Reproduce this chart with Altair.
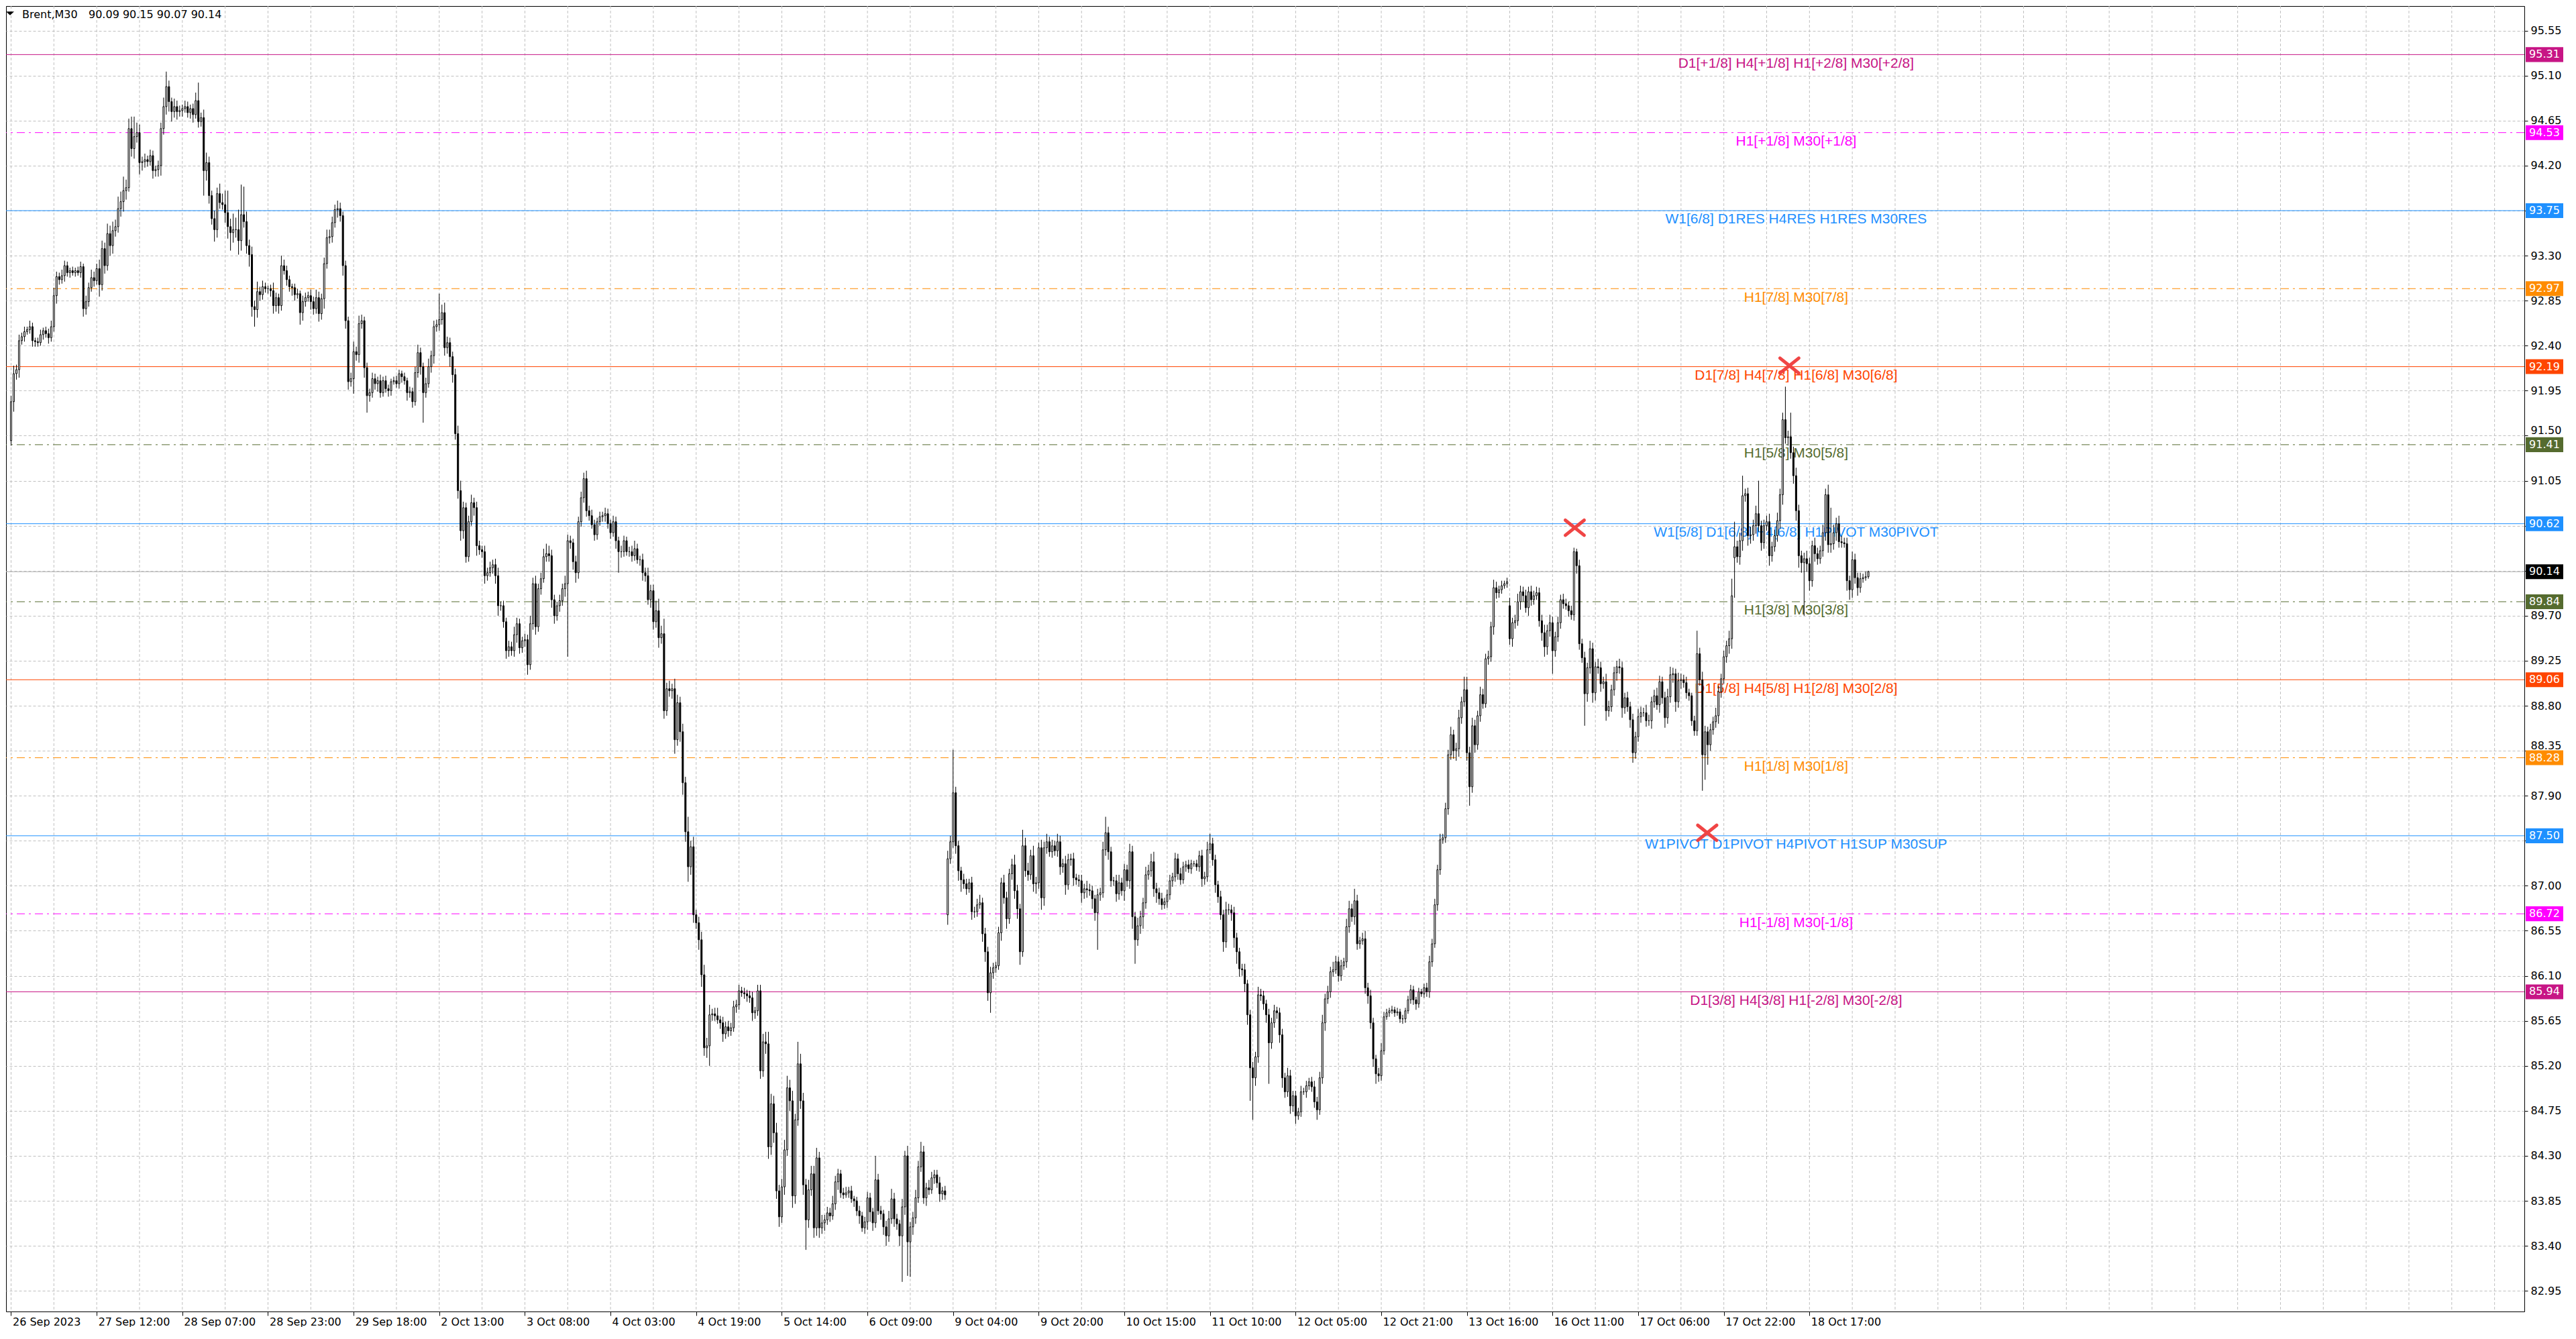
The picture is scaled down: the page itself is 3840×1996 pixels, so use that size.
import altair as alt
import pandas as pd

# ---------------- data ----------------
# M30 closes, one per bar (bar 0 = 26 Sep 2023)
closes = [
    91.84, 92.12, 92.16, 92.45, 92.49, 92.54, 92.56, 92.59, 92.45, 92.44, 92.43, 92.51, 92.55, 92.52, 92.48, 92.59, 92.90, 93.09, 93.06, 93.10,
    93.20, 93.13, 93.15, 93.13, 93.15, 93.13, 93.19, 92.77, 92.84, 92.98, 93.08, 93.05, 93.17, 93.01, 93.37, 93.20, 93.52, 93.40, 93.55, 93.59,
    93.77, 93.84, 93.95, 93.98, 94.57, 94.37, 94.49, 94.53, 94.23, 94.24, 94.26, 94.24, 94.30, 94.15, 94.16, 94.20, 94.57, 94.79, 94.99, 94.84,
    94.74, 94.79, 94.74, 94.75, 94.77, 94.79, 94.73, 94.77, 94.71, 94.85, 94.64, 94.68, 94.15, 94.23, 93.90, 93.67, 93.56, 93.92, 93.83, 93.81,
    93.73, 93.59, 93.53, 93.56, 93.56, 93.45, 93.71, 93.64, 93.40, 93.31, 92.79, 92.76, 92.94, 92.91, 92.99, 92.97, 92.97, 92.95, 92.80, 92.88,
    92.80, 93.20, 93.15, 93.06, 92.99, 92.98, 92.91, 92.92, 92.73, 92.84, 92.88, 92.90, 92.84, 92.77, 92.88, 92.72, 92.87, 93.22, 93.48, 93.49,
    93.63, 93.76, 93.77, 93.70, 93.20, 92.65, 92.04, 92.07, 92.34, 92.31, 92.62, 92.65, 92.18, 91.90, 91.93, 92.07, 92.02, 92.05, 91.93, 92.05,
    91.97, 91.95, 92.04, 92.05, 92.02, 92.12, 92.09, 92.05, 91.93, 91.94, 91.84, 92.13, 92.33, 92.19, 91.93, 92.02, 92.19, 92.30, 92.59, 92.61,
    92.66, 92.73, 92.38, 92.43, 92.29, 92.11, 91.52, 90.95, 90.55, 90.78, 90.29, 90.64, 90.83, 90.78, 90.40, 90.36, 90.34, 90.10, 90.13, 90.18,
    90.21, 90.10, 89.80, 89.80, 89.64, 89.35, 89.39, 89.35, 89.51, 89.62, 89.38, 89.45, 89.46, 89.21, 89.62, 90.02, 89.59, 89.97, 90.07, 90.29,
    90.32, 90.30, 89.86, 89.70, 89.80, 89.85, 89.97, 90.02, 90.45, 90.43, 90.24, 90.13, 90.64, 90.88, 91.07, 90.75, 90.70, 90.61, 90.51, 90.64,
    90.69, 90.70, 90.72, 90.62, 90.53, 90.64, 90.45, 90.34, 90.34, 90.45, 90.34, 90.34, 90.30, 90.37, 90.26, 90.26, 90.13, 90.10, 89.86, 89.95,
    89.64, 89.75, 89.48, 89.52, 88.75, 88.97, 88.95, 88.97, 88.46, 88.83, 88.54, 88.03, 87.54, 87.19, 87.39, 86.71, 86.63, 86.46, 86.11, 85.38,
    85.40, 85.71, 85.72, 85.70, 85.66, 85.63, 85.52, 85.59, 85.55, 85.58, 85.79, 85.81, 85.95, 85.93, 85.92, 85.90, 85.88, 85.73, 85.75, 85.95,
    85.15, 85.44, 85.42, 84.39, 84.82, 84.53, 83.95, 83.69, 83.99, 84.36, 84.98, 84.85, 83.90, 84.66, 85.22, 84.85, 84.01, 83.66, 83.96, 84.12,
    83.58, 84.28, 83.58, 83.63, 83.66, 83.73, 83.70, 83.82, 84.04, 84.12, 83.93, 83.91, 83.93, 83.95, 83.87, 83.85, 83.75, 83.70, 83.58, 83.64,
    83.88, 83.74, 83.63, 84.06, 83.75, 83.72, 83.59, 83.50, 83.67, 83.87, 83.67, 83.62, 83.50, 83.79, 84.30, 83.44, 83.59, 83.68, 83.88, 84.19,
    84.34, 83.88, 83.98, 83.96, 84.08, 84.11, 84.03, 83.92, 83.95, 83.91, 87.27, 87.44, 87.93, 87.40, 87.15, 87.06, 87.02, 86.97, 87.03, 86.74,
    86.74, 86.81, 86.83, 86.52, 86.34, 85.93, 86.13, 86.18, 86.20, 86.53, 87.03, 86.88, 86.67, 87.12, 87.21, 86.95, 86.77, 86.34, 87.40, 87.15,
    87.11, 87.30, 87.02, 87.03, 87.38, 86.88, 87.38, 87.44, 87.34, 87.40, 87.35, 87.44, 87.19, 87.22, 87.01, 87.26, 87.27, 87.08, 87.06, 87.05,
    86.93, 86.97, 86.96, 86.95, 86.87, 86.73, 86.91, 86.93, 87.36, 87.53, 87.34, 87.05, 87.05, 86.92, 87.03, 86.95, 87.16, 87.05, 87.34, 86.69,
    86.46, 86.60, 86.69, 86.83, 87.11, 87.15, 87.24, 86.97, 86.93, 86.87, 86.81, 86.84, 86.91, 87.05, 87.09, 87.27, 87.12, 87.06, 87.19, 87.21,
    87.17, 87.22, 87.22, 87.19, 87.30, 87.07, 87.09, 87.36, 87.42, 87.26, 87.01, 86.89, 86.71, 86.44, 86.76, 86.76, 86.73, 86.48, 86.34, 86.17,
    86.16, 86.02, 85.71, 85.18, 85.08, 85.29, 85.91, 85.90, 85.82, 85.71, 85.43, 85.63, 85.75, 85.73, 85.51, 85.08, 84.94, 85.10, 84.80, 84.90,
    84.70, 84.74, 84.94, 84.94, 85.00, 85.04, 84.99, 84.84, 84.76, 85.08, 85.63, 85.87, 85.94, 86.14, 86.16, 86.24, 86.10, 86.20, 86.24, 86.59,
    86.77, 86.69, 86.85, 86.42, 86.45, 86.47, 85.98, 85.90, 85.63, 85.27, 85.12, 85.10, 85.35, 85.69, 85.73, 85.75, 85.76, 85.73, 85.74, 85.67,
    85.67, 85.75, 85.86, 85.96, 85.86, 85.82, 85.94, 85.92, 85.98, 85.94, 86.24, 86.42, 86.81, 87.16, 87.46, 87.48, 87.77, 88.31, 88.51, 88.35,
    88.37, 88.68, 88.84, 88.96, 88.33, 87.99, 88.60, 88.41, 88.70, 88.91, 88.82, 89.27, 89.29, 89.59, 89.98, 89.93, 89.96, 90.00, 90.02, 90.04,
    89.47, 89.63, 89.65, 89.84, 89.94, 89.90, 89.78, 89.94, 89.86, 89.90, 89.93, 89.65, 89.53, 89.39, 89.55, 89.63, 89.35, 89.49, 89.63, 89.86,
    89.82, 89.80, 89.75, 89.71, 90.34, 90.20, 89.42, 89.28, 88.92, 89.18, 89.37, 88.93, 89.19, 89.18, 89.02, 89.04, 88.75, 88.79, 88.96, 89.13,
    89.19, 89.18, 88.78, 88.88, 88.79, 88.66, 88.33, 88.49, 88.69, 88.73, 88.73, 88.65, 88.65, 88.84, 88.90, 88.81, 89.04, 88.88, 88.68, 88.89,
    89.11, 89.12, 88.84, 89.05, 89.06, 89.03, 88.93, 88.90, 88.65, 88.55, 89.32, 89.06, 88.31, 88.54, 88.41, 88.56, 88.64, 88.70, 88.94, 89.07,
    89.29, 89.40, 89.47, 89.90, 90.39, 90.29, 90.45, 90.90, 90.92, 90.50, 90.51, 90.60, 90.72, 90.60, 90.43, 90.60, 90.64, 90.30, 90.39, 90.50,
    90.65, 90.91, 91.66, 91.48, 91.49, 91.33, 91.10, 90.75, 90.30, 90.23, 90.27, 90.22, 90.05, 90.40, 90.32, 90.27, 90.35, 90.53, 90.91, 90.41,
    90.42, 90.53, 90.62, 90.44, 90.43, 90.42, 90.05, 89.96, 90.26, 90.08, 89.98, 90.07, 90.08, 90.09, 90.14,
]

# opens that differ from the previous close (session gaps)
gap_opens = {0: 91.45, 350: 86.71, 560: 89.80, 644: 90.28}

# upper / lower wick lengths above / below the body, in cents
wick_up = [
    6, 8, 5, 6, 4, 5, 3, 6, 4, 3, 4, 5, 3, 4, 5, 6, 8, 5, 4, 6,
    5, 4, 3, 4, 3, 4, 5, 3, 6, 5, 8, 6, 5, 9, 8, 6, 10, 8, 9, 7,
    12, 10, 14, 8, 10, 12, 20, 10, 8, 5, 6, 4, 6, 5, 4, 5, 6, 9, 15, 6,
    4, 8, 6, 5, 4, 6, 5, 4, 5, 8, 18, 5, 8, 10, 6, 5, 8, 6, 10, 9,
    14, 22, 8, 16, 12, 20, 30, 28, 10, 6, 8, 6, 10, 5, 6, 4, 3, 4, 8, 5,
    4, 10, 6, 5, 4, 3, 4, 5, 3, 6, 5, 4, 6, 5, 8, 6, 5, 6, 8, 7,
    6, 5, 8, 6, 4, 5, 4, 6, 10, 5, 8, 6, 4, 5, 4, 6, 5, 4, 6, 4,
    5, 4, 3, 4, 5, 4, 3, 4, 3, 5, 4, 6, 8, 5, 4, 6, 8, 5, 6, 5,
    26, 8, 10, 6, 5, 5, 6, 8, 10, 6, 5, 6, 8, 5, 6, 5, 4, 6, 5, 6,
    5, 6, 8, 4, 5, 4, 6, 5, 8, 6, 5, 4, 6, 5, 8, 6, 8, 5, 6, 8,
    10, 8, 6, 5, 4, 6, 5, 8, 6, 5, 4, 6, 5, 6, 6, 8, 5, 6, 5, 4,
    5, 4, 6, 5, 4, 6, 5, 4, 6, 5, 4, 5, 6, 8, 5, 4, 6, 5, 8, 6,
    6, 10, 12, 8, 15, 6, 8, 5, 10, 8, 6, 8, 6, 15, 6, 10, 5, 6, 8, 10,
    8, 10, 5, 6, 8, 4, 6, 5, 6, 5, 6, 5, 6, 4, 5, 4, 5, 6, 4, 6,
    6, 8, 10, 12, 10, 8, 10, 6, 8, 10, 12, 8, 10, 6, 22, 10, 8, 6, 10, 8,
    8, 10, 6, 8, 5, 6, 5, 8, 6, 5, 4, 5, 6, 4, 5, 3, 4, 5, 4, 5,
    6, 5, 4, 24, 6, 5, 4, 6, 8, 10, 6, 5, 4, 8, 5, 10, 5, 6, 8, 6,
    10, 6, 5, 8, 6, 5, 5, 6, 4, 5, 8, 6, 43, 6, 5, 4, 6, 5, 4, 6,
    5, 6, 8, 5, 6, 5, 6, 5, 4, 6, 5, 8, 6, 5, 6, 10, 6, 5, 16, 8,
    8, 6, 10, 6, 5, 8, 6, 8, 5, 6, 5, 8, 6, 5, 8, 6, 5, 6, 4, 5,
    6, 5, 8, 6, 5, 4, 6, 5, 8, 16, 6, 5, 4, 6, 8, 5, 6, 5, 8, 6,
    5, 8, 6, 5, 8, 6, 8, 10, 6, 5, 6, 4, 5, 6, 4, 6, 5, 6, 5, 4,
    5, 4, 3, 4, 5, 6, 5, 8, 10, 6, 5, 4, 6, 5, 8, 6, 5, 6, 5, 4,
    5, 6, 4, 5, 6, 5, 8, 6, 5, 4, 6, 5, 6, 4, 5, 6, 5, 8, 6, 5,
    5, 4, 6, 4, 5, 4, 5, 6, 5, 6, 8, 5, 6, 5, 8, 6, 5, 6, 4, 8,
    8, 5, 12, 6, 4, 6, 8, 5, 6, 5, 4, 6, 8, 5, 4, 3, 4, 3, 4, 3,
    4, 3, 4, 5, 4, 3, 4, 3, 4, 5, 6, 5, 6, 5, 6, 4, 6, 5, 8, 5,
    6, 8, 5, 13, 13, 6, 8, 6, 5, 8, 6, 5, 6, 5, 8, 6, 4, 5, 3, 4,
    8, 5, 6, 8, 6, 5, 6, 5, 6, 5, 6, 5, 6, 8, 6, 8, 6, 5, 6, 5,
    6, 5, 4, 5, 4, 3, 6, 5, 6, 5, 8, 6, 5, 8, 6, 5, 8, 6, 5, 6,
    6, 8, 6, 5, 6, 5, 6, 5, 8, 6, 5, 8, 6, 5, 6, 8, 6, 5, 6, 8,
    8, 6, 5, 8, 6, 5, 6, 4, 3, 5, 23, 6, 8, 6, 5, 6, 5, 8, 6, 5,
    6, 5, 8, 17, 25, 6, 8, 20, 5, 6, 8, 6, 8, 33, 5, 6, 6, 8, 5, 6,
    8, 6, 7, 33, 6, 24, 6, 8, 6, 5, 6, 8, 6, 5, 8, 6, 5, 8, 6, 10,
    36, 8, 6, 8, 6, 5, 6, 5, 8, 6, 5, 6, 4, 5, 1,
]
wick_dn = [
    5, 10, 6, 8, 4, 5, 3, 4, 6, 5, 4, 3, 5, 4, 6, 4, 5, 8, 5, 4,
    6, 4, 5, 3, 4, 3, 5, 8, 6, 5, 4, 6, 4, 12, 6, 8, 5, 10, 8, 6,
    6, 8, 10, 9, 4, 8, 10, 6, 12, 8, 6, 5, 4, 8, 6, 7, 10, 6, 8, 10,
    10, 6, 8, 5, 6, 4, 5, 6, 8, 4, 6, 5, 25, 10, 8, 6, 12, 8, 6, 5,
    10, 12, 18, 10, 8, 14, 10, 6, 8, 12, 10, 17, 8, 6, 5, 4, 5, 6, 8, 6,
    8, 5, 4, 6, 5, 8, 6, 4, 12, 8, 5, 4, 8, 6, 5, 8, 6, 10, 5, 6,
    6, 5, 8, 6, 10, 8, 8, 5, 15, 6, 8, 5, 10, 17, 6, 5, 6, 8, 5, 4,
    4, 6, 5, 3, 4, 5, 6, 4, 8, 5, 6, 4, 5, 8, 30, 5, 4, 6, 8, 5,
    6, 5, 8, 6, 10, 8, 6, 8, 10, 8, 6, 5, 4, 8, 10, 5, 6, 8, 5, 4,
    6, 8, 10, 5, 6, 8, 6, 5, 6, 8, 6, 5, 6, 10, 5, 6, 8, 5, 6, 4,
    5, 6, 8, 8, 5, 6, 5, 8, 73, 6, 8, 10, 6, 5, 5, 6, 5, 4, 6, 5,
    4, 5, 6, 5, 6, 4, 8, 21, 6, 5, 4, 5, 6, 5, 4, 6, 8, 6, 5, 8,
    8, 6, 10, 6, 8, 5, 6, 8, 14, 6, 10, 12, 10, 15, 8, 8, 6, 10, 12, 8,
    10, 20, 6, 5, 4, 6, 8, 5, 6, 5, 4, 6, 5, 4, 5, 6, 5, 8, 6, 5,
    8, 6, 10, 12, 8, 10, 8, 10, 6, 8, 6, 10, 12, 8, 6, 8, 10, 30, 8, 6,
    10, 8, 10, 6, 8, 5, 6, 4, 6, 8, 5, 4, 3, 5, 4, 6, 5, 8, 4, 6,
    8, 10, 8, 5, 4, 6, 8, 10, 6, 5, 8, 6, 10, 46, 8, 34, 35, 8, 6, 5,
    5, 6, 8, 5, 4, 6, 5, 8, 6, 5, 10, 5, 6, 8, 10, 12, 5, 6, 4, 8,
    6, 5, 4, 8, 10, 8, 20, 6, 5, 4, 8, 6, 10, 5, 6, 8, 10, 13, 5, 6,
    6, 5, 8, 10, 6, 12, 8, 6, 5, 6, 5, 6, 8, 6, 10, 5, 6, 8, 5, 6,
    10, 6, 8, 5, 10, 8, 37, 6, 5, 6, 8, 6, 5, 8, 6, 5, 10, 6, 8, 12,
    24, 6, 8, 12, 6, 5, 6, 8, 10, 6, 5, 4, 6, 5, 6, 5, 6, 5, 4, 5,
    4, 5, 3, 4, 5, 8, 6, 5, 4, 6, 8, 6, 5, 10, 6, 5, 8, 10, 12, 8,
    6, 8, 10, 33, 42, 8, 6, 5, 6, 8, 41, 6, 5, 6, 8, 10, 6, 5, 8, 6,
    8, 4, 5, 3, 6, 4, 5, 6, 10, 5, 6, 8, 5, 6, 5, 4, 6, 5, 4, 6,
    6, 5, 8, 6, 5, 4, 6, 8, 6, 8, 10, 6, 5, 4, 3, 4, 3, 4, 3, 4,
    5, 4, 3, 4, 5, 6, 4, 3, 4, 5, 6, 5, 4, 6, 5, 4, 5, 6, 5, 8,
    10, 8, 6, 5, 8, 19, 6, 8, 5, 6, 5, 4, 6, 5, 8, 6, 5, 4, 3, 4,
    6, 8, 6, 5, 8, 6, 5, 8, 6, 5, 4, 6, 8, 10, 8, 6, 23, 6, 5, 6,
    5, 4, 6, 5, 6, 8, 6, 5, 32, 8, 6, 10, 8, 6, 8, 5, 10, 6, 5, 6,
    8, 6, 10, 6, 5, 8, 10, 6, 5, 6, 4, 6, 5, 8, 6, 5, 8, 6, 10, 6,
    6, 8, 10, 6, 8, 5, 6, 5, 5, 5, 5, 6, 36, 25, 20, 6, 5, 6, 8, 6,
    5, 6, 8, 10, 40, 6, 8, 10, 6, 10, 8, 6, 8, 6, 8, 6, 5, 10, 6, 5,
    6, 8, 10, 6, 8, 6, 8, 10, 12, 10, 53, 8, 10, 6, 8, 6, 5, 6, 8, 8,
    8, 6, 8, 6, 5, 4, 10, 10, 8, 6, 8, 5, 4, 3, 2,
]

# Murrey-math style levels drawn across the chart
level_prices = [95.31, 94.53, 93.75, 92.97, 92.19, 91.41, 90.62, 89.84, 89.06, 88.28, 87.50, 86.72, 85.94]
level_colors = ["#C71585", "#FF00FF", "#1E90FF", "#FF8C00", "#FF4500", "#556B2F", "#1E90FF",
                "#556B2F", "#FF4500", "#FF8C00", "#1E90FF", "#FF00FF", "#C71585"]
level_styles = ["solid", "dashdot", "solid", "dashdot", "solid", "dashdot", "solid",
                "dashdot", "solid", "dashdot", "solid", "dashdot", "solid"]
level_texts = [
    "D1[+1/8] H4[+1/8] H1[+2/8] M30[+2/8]",
    "H1[+1/8] M30[+1/8]",
    "W1[6/8] D1RES H4RES H1RES M30RES",
    "H1[7/8] M30[7/8]",
    "D1[7/8] H4[7/8] H1[6/8] M30[6/8]",
    "H1[5/8] M30[5/8]",
    "W1[5/8] D1[6/8] H4[6/8] H1PIVOT M30PIVOT",
    "H1[3/8] M30[3/8]",
    "D1[5/8] H4[5/8] H1[2/8] M30[2/8]",
    "H1[1/8] M30[1/8]",
    "W1PIVOT D1PIVOT H4PIVOT H1SUP M30SUP",
    "H1[-1/8] M30[-1/8]",
    "D1[3/8] H4[3/8] H1[-2/8] M30[-2/8]",
]
level_label_bar = 667

# red cross markers (bar, price)
cross_bars = [584.3, 664.5, 633.8]
cross_prices = [90.58, 92.20, 87.53]

# axes
x_tick_bars = [0, 32, 64, 96, 128, 160, 192, 224, 256, 288, 320, 352, 384, 416, 448, 480, 512, 544, 576, 608, 640, 672]
x_tick_labels = ["26 Sep 2023", "27 Sep 12:00", "28 Sep 07:00", "28 Sep 23:00", "29 Sep 18:00", "2 Oct 13:00",
                 "3 Oct 08:00", "4 Oct 03:00", "4 Oct 19:00", "5 Oct 14:00", "6 Oct 09:00", "9 Oct 04:00",
                 "9 Oct 20:00", "10 Oct 15:00", "11 Oct 10:00", "12 Oct 05:00", "12 Oct 21:00", "13 Oct 16:00",
                 "16 Oct 11:00", "17 Oct 06:00", "17 Oct 22:00", "18 Oct 17:00"]
vgrid_bars = [16 * k for k in range(59)]
y_ticks = [82.95, 83.40, 83.85, 84.30, 84.75, 85.20, 85.65, 86.10, 86.55, 87.00, 87.45, 87.90, 88.35, 88.80,
           89.25, 89.70, 90.15, 90.60, 91.05, 91.50, 91.95, 92.40, 92.85, 93.30, 93.75, 94.20, 94.65, 95.10, 95.55]
symbol_name = "Brent,M30"

# ---------------- build tables ----------------
n = len(closes)
if not (len(wick_up) == n and len(wick_dn) == n):
    raise SystemExit(f"length mismatch {n} {len(wick_up)} {len(wick_dn)}")

rows = []
for i in range(n):
    o = gap_opens.get(i, closes[i - 1] if i > 0 else closes[0])
    c = closes[i]
    rows.append(dict(bar=i, open=o, close=c,
                     high=round(max(o, c) + wick_up[i] / 100, 2),
                     low=round(min(o, c) - wick_dn[i] / 100, 2),
                     fill="white" if c >= o else "black"))
candles = pd.DataFrame(rows)
last = rows[-1]
header_values = f"{last['open']:.2f} {last['high']:.2f} {last['low']:.2f} {last['close']:.2f}"

levels = pd.DataFrame(dict(price=level_prices, color=level_colors, style=level_styles,
                           label=level_texts, lx=[level_label_bar] * len(level_prices)))
box_prices = level_prices + [last["close"]]
boxes = pd.DataFrame(dict(price=box_prices, color=level_colors + ["#000000"]))
boxes["ptxt"] = [f"{p:.2f}" for p in boxes["price"]]
crosses = pd.DataFrame(dict(bar=cross_bars, price=cross_prices))
vgrid = pd.DataFrame(dict(bar=vgrid_bars))
lastdf = pd.DataFrame(dict(price=[last["close"]]))

# tick labels completely under a price box are not shown (as in the terminal);
# labels just above a box sit on top of it, labels just below hang under it
hidden_ticks = [t for t in y_ticks if any(abs(t - p) < 0.06 for p in box_prices)]
lift_ticks = [t for t in y_ticks if t not in hidden_ticks and any(0 < t - p < 0.10 for p in box_prices)]
drop_ticks = [t for t in y_ticks if t not in hidden_ticks and any(0 < p - t < 0.10 for p in box_prices)]


def js_list(vals):
    return "[" + ",".join(f"{v:.2f}" for v in vals) + "]"


y_label_expr = f"indexof({js_list(hidden_ticks)}, datum.value) >= 0 ? '' : format(datum.value, '.2f')"
y_label_baseline = {
    "condition": [
        {"test": f"indexof({js_list(lift_ticks)}, datum.value) >= 0", "value": "bottom"},
        {"test": f"indexof({js_list(drop_ticks)}, datum.value) >= 0", "value": "top"},
    ],
    "value": "middle",
}

# ---------------- chart ----------------
W, H = 3754, 1946
xs = alt.Scale(domain=[-0.625, -0.625 + W / 4], zero=False, nice=False)
ys = alt.Scale(domain=[82.7438, 95.7955], zero=False, nice=False)
FONT = "DejaVu Sans"
label_expr = "[" + ",".join(f"'{t}'" for t in x_tick_labels) + "][round(datum.value / 32)]"

x_axis = alt.Axis(values=x_tick_bars, labelExpr=label_expr, labelAlign="left", labelBaseline="top",
                  labelPadding=1, labelOffset=2, tickSize=6, tickColor="black", domain=False, grid=False,
                  labelFont=FONT, labelFontSize=16, labelColor="black", title=None,
                  labelOverlap=False, labelFlush=False, zindex=0)
y_axis = alt.Axis(orient="right", values=y_ticks, labelExpr=y_label_expr, labelFont=FONT, labelFontSize=16,
                  labelColor="black", tickSize=5, tickColor="black", labelPadding=4, domain=False,
                  grid=True, gridColor="#C0C0C0", gridDash=[4, 3], gridWidth=1, title=None,
                  labelOverlap=False, labelFlush=False, labelBaseline=y_label_baseline, zindex=0)


def X(field):
    return alt.X(field, scale=xs, axis=x_axis)


def Y(field):
    return alt.Y(field, scale=ys, axis=y_axis)


grid_v = alt.Chart(vgrid).mark_rule(color="#C0C0C0", strokeDash=[4, 3], strokeWidth=1).encode(
    x=X("bar:Q"))

level_lines = alt.Chart(levels).mark_rule(strokeWidth=1).encode(
    y=Y("price:Q"),
    color=alt.Color("color:N", scale=None),
    strokeDash=alt.StrokeDash("style:N", scale=alt.Scale(domain=["solid", "dashdot"],
                                                         range=[[1, 0], [12, 6, 3, 6]]), legend=None))

bid_line = alt.Chart(lastdf).mark_rule(color="#B0B0B0", strokeWidth=1).encode(y=Y("price:Q"))

level_labels = alt.Chart(levels).mark_text(font="Liberation Sans", fontSize=21, align="center",
                                           baseline="alphabetic", dy=19.5).encode(
    x=X("lx:Q"), y=Y("price:Q"), text="label:N", color=alt.Color("color:N", scale=None))

wicks = alt.Chart(candles).mark_rule(color="black", strokeWidth=1).encode(
    x=X("bar:Q"), y=Y("low:Q"), y2="high:Q")

bodies = alt.Chart(candles).mark_bar(width=2, stroke="black", strokeWidth=1).encode(
    x=X("bar:Q"), y=Y("open:Q"), y2="close:Q", fill=alt.Fill("fill:N", scale=None))

cross_marks = alt.Chart(crosses).mark_point(
    shape="M -1 -0.8 L 1 0.8 M -1 0.8 L 1 -0.8", size=784, filled=False, strokeWidth=5,
    strokeCap="round", color="#F03C3C", opacity=0.95).encode(x=X("bar:Q"), y=Y("price:Q"))

price_boxes = alt.Chart(boxes).transform_calculate(
    lo="datum.price - 0.074", hi="datum.price + 0.074").mark_rect().encode(
    x=alt.value(W + 2), x2=alt.value(W + 58),
    y=Y("lo:Q"), y2="hi:Q",
    color=alt.Color("color:N", scale=None))

price_texts = alt.Chart(boxes).mark_text(font=FONT, fontSize=16, color="white", align="center",
                                         baseline="middle").encode(
    x=alt.value(W + 30), y=Y("price:Q"), text="ptxt:N")

hdr = pd.DataFrame(dict(t=[symbol_name], v=[header_values]))
header_name = alt.Chart(hdr).mark_text(font=FONT, fontSize=16, color="black", align="left",
                                       baseline="alphabetic").encode(
    x=alt.value(24), y=alt.value(18), text="t:N")
header_vals = alt.Chart(hdr).mark_text(font=FONT, fontSize=16, color="black", align="left",
                                       baseline="alphabetic").encode(
    x=alt.value(123), y=alt.value(18), text="v:N")
header_tri = alt.Chart(hdr).mark_point(shape="M -1 -0.45 L 1 -0.45 L 0 0.45 Z", size=144,
                                       filled=True, color="black", opacity=1).encode(
    x=alt.value(6), y=alt.value(11))

chart = alt.layer(
    grid_v, level_lines, bid_line, level_labels, wicks, bodies, cross_marks,
    price_boxes, price_texts, header_name, header_vals, header_tri
).properties(width=W, height=H, padding=0, background="white").configure_view(
    stroke="black", strokeWidth=1)

chart.save("out.html", embed_options={"renderer": "svg", "actions": False})
